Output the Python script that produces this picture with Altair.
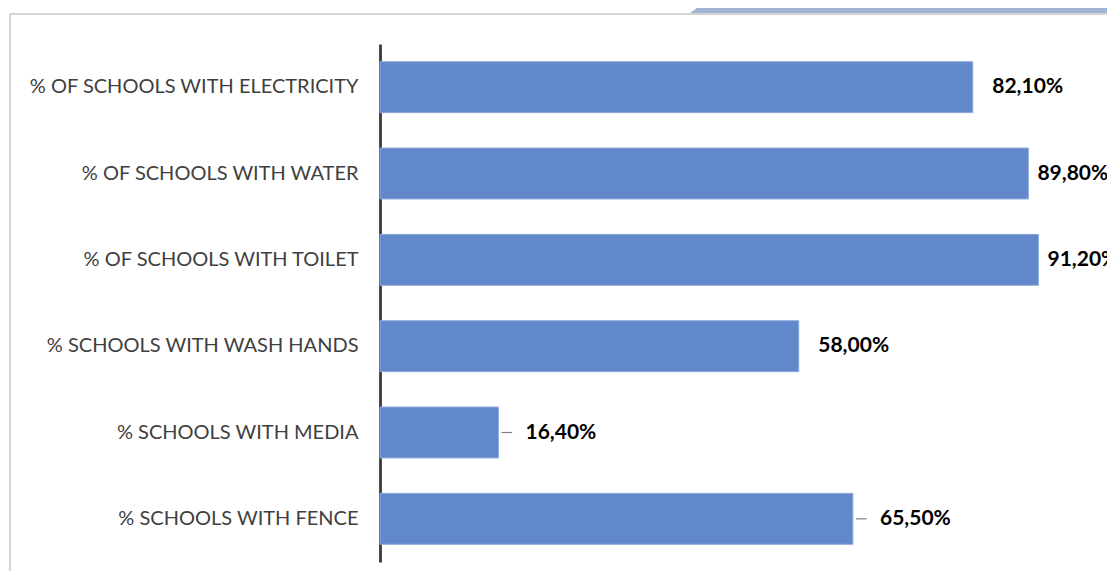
import altair as alt
import pandas as pd

categories = [
    "% OF SCHOOLS WITH ELECTRICITY",
    "% OF SCHOOLS WITH WATER",
    "% OF SCHOOLS WITH TOILET",
    "% SCHOOLS WITH WASH HANDS",
    "%  SCHOOLS WITH MEDIA",
    "% SCHOOLS WITH FENCE",
]
values = [82.1, 89.8, 91.2, 58.0, 16.4, 65.5]
labels = ["82,10%", "89,80%", "91,20%", "58,00%", "16,40%", "65,50%"]
has_leader = [False, False, False, False, True, True]

df = pd.DataFrame({"cat": categories, "val": values, "lbl": labels, "leader": has_leader})

W, H = 722, 518
ysc = alt.Y("cat:N", sort=categories,
            scale=alt.Scale(paddingInner=0.41, paddingOuter=0.205),
            axis=alt.Axis(title=None, ticks=False, labelPadding=22, labelFontSize=20,
                          labelFont="Lato", labelColor="#404040", labelLimit=400,
                          domainColor="#3a3a3a", domainWidth=2.8, grid=False))
xscale = alt.Scale(domain=[0, 100], nice=False, zero=True)
xsc = alt.X("val:Q", scale=xscale, axis=None)
ycat = alt.Y("cat:N", sort=categories)

base = alt.Chart(df)
bars = base.mark_bar(color="#6288cc", stroke="#8eaadb", strokeWidth=1).encode(x=xsc, y=ysc)

# label anchor: a gap after the bar end, kept inside the canvas when possible
labels_layer = base.transform_calculate(
    lx="datum.leader ? datum.val + 3.75 : min(datum.val + 2.7, max(datum.val + 1.25, 90.8))",
    lead_end="datum.val + 1.9",
)
txt = labels_layer.mark_text(
    align="left", baseline="middle", font="Lato", fontSize=21, fontWeight="bold", color="#000000"
).encode(x=alt.X("lx:Q", scale=xscale), y=ycat, text="lbl:N")
leaders = labels_layer.transform_filter("datum.leader").mark_rule(
    color="#7f7f7f", strokeWidth=1.2, xOffset=3
).encode(x=xsc, x2="lead_end:Q", y=ycat)

frame = pd.DataFrame({"k": [0]})
left_border = alt.Chart(frame).mark_rule(color="#c6c6c6", strokeWidth=1.5).encode(
    x=alt.value(-370), y=alt.value(-30), y2=alt.value(560))
top_border = alt.Chart(frame).mark_rule(color="#c6c6c6", strokeWidth=1.5).encode(
    x=alt.value(-370), x2=alt.value(740), y=alt.value(-30))
band = alt.Chart(frame).mark_point(
    shape="M310,-31L318,-37L740,-37L740,-31Z", size=4, filled=True, fill="#a2b4d6",
    stroke="#a2b4d6", strokeWidth=0, opacity=1
).encode(x=alt.value(0), y=alt.value(0))

chart = alt.layer(left_border, top_border, band, bars, leaders, txt).properties(
    width=W, height=H,
    autosize=alt.AutoSizeParams(type="none"),
    padding={"left": 372, "top": 36, "right": 5, "bottom": 9},
    background="#ffffff",
).configure_view(stroke=None)

chart.save("out.html", embed_options={"renderer": "svg", "actions": False})
